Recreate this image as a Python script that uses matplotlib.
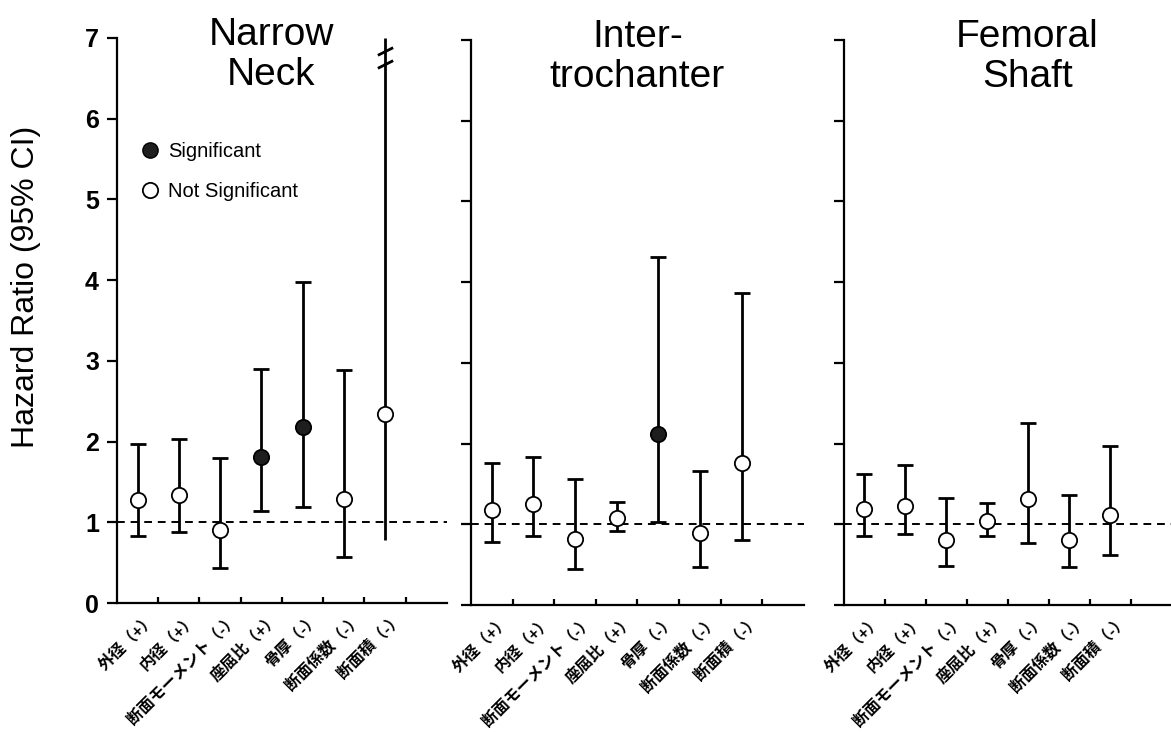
import matplotlib
matplotlib.use("Agg")
import matplotlib.pyplot as plt
import matplotlib.transforms as mtransforms
from matplotlib.lines import Line2D
import numpy as np

plt.rcParams['font.family'] = ['Liberation Sans', 'Noto Sans CJK JP', 'DejaVu Sans']

# bone geometry parameters (sign of association in brackets)
params = ['外径（+）', '内径（+）', '断面モーメント（-）', '座屈比（+）',
          '骨厚（-）', '断面係数（-）', '断面積（-）']

# hazard ratios with 95% CI, one set per femoral region
titles = ['Narrow\nNeck', 'Inter-\ntrochanter', 'Femoral\nShaft']
title_x = [0.467, 0.50, 0.56]

hr_neck = [1.28, 1.34, 0.91, 1.81, 2.18, 1.29, 2.34]
lo_neck = [0.83, 0.88, 0.44, 1.14, 1.19, 0.57, 0.78]
hi_neck = [1.97, 2.03, 1.80, 2.90, 3.98, 2.89, 7.00]
sig_neck = [False, False, False, True, True, False, False]

hr_troch = [1.18, 1.25, 0.82, 1.08, 2.12, 0.89, 1.76]
lo_troch = [0.78, 0.85, 0.44, 0.92, 1.03, 0.47, 0.81]
hi_troch = [1.76, 1.83, 1.56, 1.27, 4.31, 1.66, 3.87]
sig_troch = [False, False, False, False, True, False, False]

hr_shaft = [1.19, 1.23, 0.81, 1.04, 1.31, 0.80, 1.12]
lo_shaft = [0.85, 0.88, 0.48, 0.85, 0.77, 0.47, 0.62]
hi_shaft = [1.62, 1.74, 1.32, 1.26, 2.25, 1.36, 1.97]
sig_shaft = [False] * 7

# upper CI of the neck cross-sectional area runs off the scale
broken_neck = [False] * 6 + [True]

panels = [
    (hr_neck, lo_neck, hi_neck, sig_neck, broken_neck),
    (hr_troch, lo_troch, hi_troch, sig_troch, [False] * 7),
    (hr_shaft, lo_shaft, hi_shaft, sig_shaft, [False] * 7),
]

rects = [
    [0.0999, 0.1762, 0.2818, 0.7719],
    [0.4022, 0.1735, 0.2844, 0.7719],
    [0.7207, 0.1735, 0.2800, 0.7719],
]

fig = plt.figure(figsize=(11.71, 7.32), dpi=100)

x = np.arange(len(params)) + 0.5
for i, (hr, lo, hi, sig, broken) in enumerate(panels):
    ax = fig.add_axes(rects[i])
    ax.set_xlim(0, 8)
    ax.set_ylim(0, 7)
    for s in ['top', 'right']:
        ax.spines[s].set_visible(False)
    for s in ['left', 'bottom']:
        ax.spines[s].set_linewidth(1.6)

    ax.axhline(1, color='black', lw=1.4, ls=(0, (4, 3)), zorder=1)

    for j in range(len(params)):
        cap = 0 if broken[j] else 6
        ax.errorbar(x[j], hr[j], yerr=[[hr[j] - lo[j]], [hi[j] - hr[j]]],
                    fmt='none', ecolor='black', elinewidth=2.0,
                    capsize=cap, capthick=2.0, zorder=2)
        ax.plot(x[j], hr[j], 'o', ms=11, mew=1.3, mec='black',
                mfc='#1e1e1e' if sig[j] else 'white', zorder=3)
        if broken[j]:
            # double-slash break mark
            slash = [(-1, -0.5), (1, 0.5)]
            ax.plot([x[j], x[j]], [6.84, 6.68], ls='none', marker=slash,
                    ms=11, mew=2.0, mec='black', zorder=4)

    ax.set_yticks(range(8))
    ax.tick_params(axis='y', direction='out', length=7, width=1.6, pad=6)
    if i == 0:
        ax.set_yticklabels([str(v) for v in range(8)], fontsize=18,
                           fontweight='bold')
        ax.set_ylabel('Hazard Ratio (95% CI)', fontsize=23)
        ax.yaxis.set_label_coords(-0.23, 0.56)
    else:
        ax.set_yticklabels([])

    ax.set_xticks(range(1, 8))
    ax.set_xticklabels([])
    ax.tick_params(axis='x', which='major', direction='in', length=4, width=1.6)
    ax.set_xticks(x, minor=True)
    ax.set_xticklabels(params, minor=True, rotation=45, ha='right',
                       va='center', rotation_mode='anchor', fontsize=11.5,
                       fontweight='bold')
    ax.tick_params(axis='x', which='minor', length=0, pad=9)
    shift = mtransforms.ScaledTranslation(15 / 100, 0, fig.dpi_scale_trans)
    for lab in ax.get_xticklabels(minor=True):
        lab.set_transform(lab.get_transform() + shift)

    ax.text(title_x[i], 7.26, titles[i],
            transform=mtransforms.blended_transform_factory(ax.transAxes,
                                                            ax.transData),
            ha='center', va='top', fontsize=28, linespacing=1.15,
            clip_on=False)

    if i == 0:
        handles = [
            Line2D([], [], ls='none', marker='o', ms=11, mfc='#1e1e1e',
                   mec='black', label='Significant'),
            Line2D([], [], ls='none', marker='o', ms=11, mfc='white',
                   mec='black', mew=1.3, label='Not Significant'),
        ]
        ax.legend(handles=handles, loc='upper left',
                  bbox_to_anchor=(0.045, 0.83), frameon=False, fontsize=14.5,
                  handlelength=1.0, handletextpad=0.4, labelspacing=1.05,
                  borderaxespad=0)

fig.savefig('out.png', dpi=100)
